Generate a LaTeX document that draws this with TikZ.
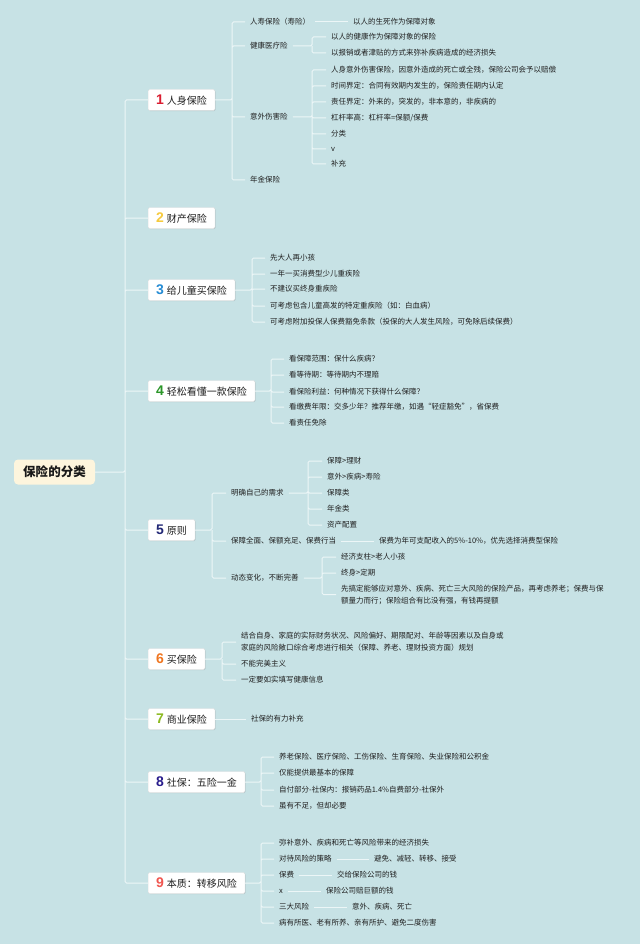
\documentclass[tikz,border=0pt]{standalone}
\usepackage{fontspec}
\setmainfont{Noto Sans CJK SC}
\newfontfamily\numfont{Liberation Sans}
\usetikzlibrary{shadows}
\definecolor{mapbg}{RGB}{199,226,229}
\definecolor{mapline}{RGB}{236,246,247}
\definecolor{rootfill}{RGB}{253,245,221}
\definecolor{n1}{RGB}{218,28,48}
\definecolor{n2}{RGB}{246,202,62}
\definecolor{n3}{RGB}{38,140,212}
\definecolor{n4}{RGB}{42,150,40}
\definecolor{n5}{RGB}{34,40,118}
\definecolor{n6}{RGB}{240,118,32}
\definecolor{n7}{RGB}{140,186,32}
\definecolor{n8}{RGB}{40,28,140}
\definecolor{n9}{RGB}{240,86,80}
\newcommand\tnum[2]{{\numfont\bfseries\fontsize{14}{14}\selectfont\color{#1}#2}\hspace{3pt}}

\begin{document}
\begin{tikzpicture}[
    x=1pt, y=-1pt,
    root/.style={fill=rootfill, rounded corners=4pt, minimum width=81pt, minimum height=25pt,
      font=\fontsize{12.5}{14}\selectfont\bfseries, text=black!90},
    topic/.style={anchor=west, draw=black!12, fill=white, rounded corners=1.5pt,
      minimum height=21pt, inner xsep=8pt, inner ysep=1pt,
      font=\fontsize{10}{12}\selectfont, text=black!88,
      drop shadow={shadow xshift=0.7pt, shadow yshift=-0.7pt, opacity=0.25}},
    leaf/.style={anchor=west, inner xsep=5pt, inner ysep=1pt, align=left,
      font=\fontsize{7.5}{12}\selectfont, text=black!88},
    link/.style={draw=mapline, line width=1pt, rounded corners=1.5pt},
  ]

  % background
  \fill[mapbg] (0,0) rectangle (640,944);
  \useasboundingbox (0,0) rectangle (640,944);

  % root and main topics
  \node[root] (root) at (54.5,472) {保险的分类};
  \coordinate (trunk) at (125,0);

  \node[topic] (t1) at (148,100) {\tnum{n1}{1}人身保险};
  \node[topic] (t2) at (148,218) {\tnum{n2}{2}财产保险};
  \node[topic] (t3) at (148,290) {\tnum{n3}{3}给儿童买保险};
  \node[topic] (t4) at (148,391) {\tnum{n4}{4}轻松看懂一款保险};
  \node[topic] (t5) at (148,530) {\tnum{n5}{5}原则};
  \node[topic] (t6) at (148,659) {\tnum{n6}{6}买保险};
  \node[topic] (t7) at (148,719) {\tnum{n7}{7}商业保险};
  \node[topic] (t8) at (148,782) {\tnum{n8}{8}社保：五险一金};
  \node[topic] (t9) at (148,883) {\tnum{n9}{9}本质：转移风险};

  \draw[link] (root.east) -- (root.east -| trunk) |- (t1.west)
    (root.east -| trunk) |- (t2.west) (root.east -| trunk) |- (t3.west)
    (root.east -| trunk) |- (t4.west) (root.east -| trunk) |- (t5.west)
    (root.east -| trunk) |- (t6.west) (root.east -| trunk) |- (t7.west)
    (root.east -| trunk) |- (t8.west) (root.east -| trunk) |- (t9.west);

  % 1 personal insurance
  \coordinate (b1) at (232,0);
  \coordinate (b12) at (312,0);
  \node[leaf] (a1) at (245,22) {人寿保险（寿险）};
  \node[leaf] (a11) at (348,22) {以人的生死作为保障对象};
  \node[leaf] (a2) at (245,46) {健康医疗险};
  \node[leaf] (a21) at (326,37) {以人的健康作为保障对象的保险};
  \node[leaf] (a22) at (326,53) {以报销或者津贴的方式来弥补疾病造成的经济损失};
  \node[leaf] (a3) at (245,117) {意外伤害险};
  \node[leaf] (a31) at (326,70) {人身意外伤害保险，因意外造成的死亡或全残，保险公司会予以赔偿};
  \node[leaf] (a32) at (326,86) {时间界定：合同有效期内发生的，保险责任期内认定};
  \node[leaf] (a33) at (326,102) {责任界定：外来的，突发的，非本意的，非疾病的};
  \node[leaf] (a34) at (326,118) {杠杆率高：杠杆率=保额/保费};
  \node[leaf] (a35) at (326,134) {分类};
  \node[leaf] (a36) at (326,149) {v};
  \node[leaf] (a37) at (326,164) {补充};
  \node[leaf] (a4) at (245,180) {年金保险};

  \draw[link] (t1.east) -- (t1.east -| b1) |- (a1.west)
    (t1.east -| b1) |- (a2.west) (t1.east -| b1) |- (a3.west)
    (t1.east -| b1) |- (a4.west);
  \draw[link] (a1.east) -- (a11.west);
  \draw[link] (a2.east) -- (a2.east -| b12) |- (a21.west)
    (a2.east -| b12) |- (a22.west);
  \draw[link] (a3.east) -- (a3.east -| b12) |- (a31.west)
    (a3.east -| b12) |- (a32.west) (a3.east -| b12) |- (a33.west)
    (a3.east -| b12) |- (a34.west) (a3.east -| b12) |- (a35.west)
    (a3.east -| b12) |- (a36.west) (a3.east -| b12) |- (a37.west);

  % 3 children
  \coordinate (b3) at (252,0);
  \node[leaf] (c1) at (265,258) {先大人再小孩};
  \node[leaf] (c2) at (265,274) {一年一买消费型少儿重疾险};
  \node[leaf] (c3) at (265,289) {不建议买终身重疾险};
  \node[leaf] (c4) at (265,306) {可考虑包含儿童高发的特定重疾险（如：白血病）};
  \node[leaf] (c5) at (265,322) {可考虑附加投保人保费豁免条款（投保的大人发生风险，可免除后续保费）};
  \draw[link] (t3.east) -- (t3.east -| b3) |- (c1.west)
    (t3.east -| b3) |- (c2.west) (t3.east -| b3) |- (c3.west)
    (t3.east -| b3) |- (c4.west) (t3.east -| b3) |- (c5.west);

  % 4 reading a policy
  \coordinate (b4) at (271,0);
  \node[leaf] (d1) at (284,359) {看保障范围：保什么疾病？};
  \node[leaf] (d2) at (284,375) {看等待期：等待期内不理赔};
  \node[leaf] (d3) at (284,392) {看保险利益：何种情况下获得什么保障？};
  \node[leaf] (d4) at (284,407) {看缴费年限：交多少年？推荐年缴，如遇“轻症豁免”，省保费};
  \node[leaf] (d5) at (284,423) {看责任免除};
  \draw[link] (t4.east) -- (t4.east -| b4) |- (d1.west)
    (t4.east -| b4) |- (d2.west) (t4.east -| b4) |- (d3.west)
    (t4.east -| b4) |- (d4.west) (t4.east -| b4) |- (d5.west);

  % 5 principles
  \coordinate (b5) at (212,0);
  \coordinate (b51) at (308,0);
  \coordinate (b53) at (322,0);
  \node[leaf] (e1) at (226,493) {明确自己的需求};
  \node[leaf] (e11) at (322,461) {保障>理财};
  \node[leaf] (e12) at (322,477) {意外>疾病>寿险};
  \node[leaf] (e13) at (322,493) {保障类};
  \node[leaf] (e14) at (322,509) {年金类};
  \node[leaf] (e15) at (322,525) {资产配置};
  \node[leaf] (e2) at (226,541) {保障全面、保额充足、保费行当};
  \node[leaf] (e21) at (374,541) {保费为年可支配收入的5\%-10\%，优先选择消费型保险};
  \node[leaf] (e3) at (226,578) {动态变化，不断完善};
  \node[leaf] (e31) at (336,557) {经济支柱>老人小孩};
  \node[leaf] (e32) at (336,573) {终身>定期};
  \node[leaf] (e33) at (336,594.5) {先搞定能够应对意外、疾病、死亡三大风险的保险产品，再考虑养老；保费与保\\额量力而行；保险组合有比没有强，有钱再提额};
  \draw[link] (t5.east) -- (t5.east -| b5) |- (e1.west)
    (t5.east -| b5) |- (e2.west) (t5.east -| b5) |- (e3.west);
  \draw[link] (e1.east) -- (e1.east -| b51) |- (e11.west)
    (e1.east -| b51) |- (e12.west) (e1.east -| b51) |- (e13.west)
    (e1.east -| b51) |- (e14.west) (e1.east -| b51) |- (e15.west);
  \draw[link] (e2.east) -- (e21.west);
  \draw[link] (e3.east) -- (e3.east -| b53) |- (e31.west)
    (e3.east -| b53) |- (e32.west) (e3.east -| b53) |- (e33.west);

  % 6 buying
  \coordinate (b6) at (222,0);
  \node[leaf] (f1) at (236,642) {结合自身、家庭的实际财务状况、风险偏好、期限配对、年龄等因素以及自身或\\家庭的风险敞口综合考虑进行相关（保障、养老、理财投资方面）规划};
  \node[leaf] (f2) at (236,664) {不能完美主义};
  \node[leaf] (f3) at (236,680) {一定要如实填写健康信息};
  \draw[link] (t6.east) -- (t6.east -| b6) |- (f1.west)
    (t6.east -| b6) |- (f2.west) (t6.east -| b6) |- (f3.west);

  % 7 commercial
  \node[leaf] (g1) at (246,719) {社保的有力补充};
  \draw[link] (t7.east) -- (g1.west);

  % 8 social insurance
  \coordinate (b8) at (261,0);
  \node[leaf] (h1) at (274,757) {养老保险、医疗保险、工伤保险、生育保险、失业保险和公积金};
  \node[leaf] (h2) at (274,773) {仅能提供最基本的保障};
  \node[leaf] (h3) at (274,790) {自付部分-社保内：报销药品1.4\%自费部分-社保外};
  \node[leaf] (h4) at (274,806) {虽有不足，但却必要};
  \draw[link] (t8.east) -- (t8.east -| b8) |- (h1.west)
    (t8.east -| b8) |- (h2.west) (t8.east -| b8) |- (h3.west)
    (t8.east -| b8) |- (h4.west);

  % 9 essence
  \coordinate (b9) at (261,0);
  \node[leaf] (k1) at (274,843) {弥补意外、疾病和死亡等风险带来的经济损失};
  \node[leaf] (k2) at (274,859) {对待风险的策略};
  \node[leaf] (k21) at (369,859) {避免、减轻、转移、接受};
  \node[leaf] (k3) at (274,875) {保费};
  \node[leaf] (k31) at (332,875) {交给保险公司的钱};
  \node[leaf] (k4) at (274,891) {x};
  \node[leaf] (k41) at (321,891) {保险公司赔巨额的钱};
  \node[leaf] (k5) at (274,907) {三大风险};
  \node[leaf] (k51) at (347,907) {意外、疾病、死亡};
  \node[leaf] (k6) at (274,923) {病有所医、老有所养、亲有所护、避免二度伤害};
  \draw[link] (t9.east) -- (t9.east -| b9) |- (k1.west)
    (t9.east -| b9) |- (k2.west) (t9.east -| b9) |- (k3.west)
    (t9.east -| b9) |- (k4.west) (t9.east -| b9) |- (k5.west)
    (t9.east -| b9) |- (k6.west);
  \draw[link] (k2.east) -- (k21.west);
  \draw[link] (k3.east) -- (k31.west);
  \draw[link] (k4.east) -- (k41.west);
  \draw[link] (k5.east) -- (k51.west);

\end{tikzpicture}
\end{document}
